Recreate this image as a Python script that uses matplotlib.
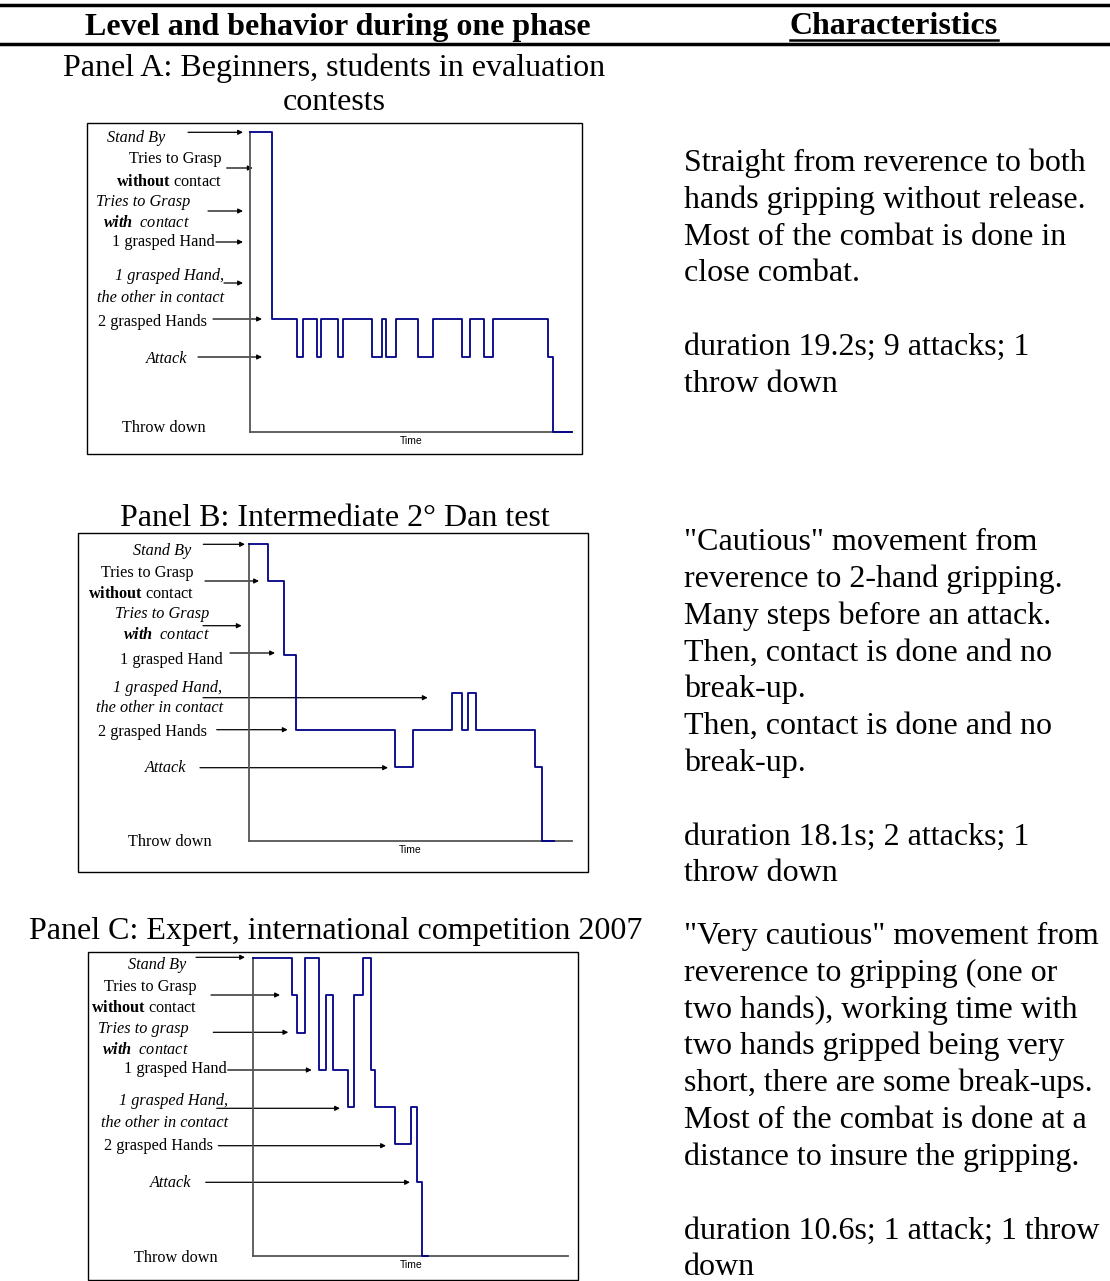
import matplotlib
matplotlib.use("Agg")
import matplotlib.pyplot as plt

plt.rcParams["font.family"] = "Liberation Serif"
plt.rcParams["mathtext.fontset"] = "custom"
plt.rcParams["mathtext.rm"] = "Liberation Serif"
plt.rcParams["mathtext.it"] = "Liberation Serif:italic"
plt.rcParams["mathtext.bf"] = "Liberation Serif:bold"
plt.rcParams["mathtext.bfit"] = "Liberation Serif:italic:bold"

# behaviour levels (y value of each state)
level_names = ["Throw down", "Attack", "2 grasped Hands", "1 grasped Hand, other in contact",
               "1 grasped Hand", "Tries to Grasp with contact",
               "Tries to Grasp without contact", "Stand By"]
level_values = [0, 2, 3, 4, 5, 6, 7, 8]

# Panel A: beginners (time in s, level from that time on)
a_times = [0, 1.42, 3.0, 3.34, 4.23, 4.48, 5.6, 5.92, 7.76, 8.39, 8.62,
           9.26, 10.67, 11.58, 13.42, 13.95, 14.84, 15.39, 18.85, 19.2, 20.4]
a_levels = [8, 3, 2, 3, 2, 3, 2, 3, 2, 3, 2, 3, 2, 3, 2, 3, 2, 3, 2, 0, 0]

# Panel B: intermediate
b_times = [0, 1.19, 2.16, 2.89, 9.03, 10.16, 12.54, 13.15, 13.56, 14.04,
           17.69, 18.1, 18.86]
b_levels = [8, 7, 5, 3, 2, 3, 4, 3, 4, 3, 2, 0, 0]

# Panel C: expert
c_times = [0, 2.42, 2.77, 3.25, 4.15, 4.56, 5.03, 5.98, 6.36, 6.88, 7.41,
           7.66, 8.92, 9.91, 10.32, 10.6, 11.01]
c_levels = [8, 7, 6, 8, 5, 7, 5, 4, 7, 8, 5, 4, 3, 4, 2, 0, 0]

panel_titles = [["Panel A: Beginners, students in evaluation", "contests"],
                ["Panel B: Intermediate 2° Dan test"],
                ["Panel C: Expert, international competition 2007"]]

descriptions = [
    ["Straight from reverence to both",
     "hands gripping without release.",
     "Most of the combat is done in",
     "close combat.",
     "",
     "duration 19.2s; 9 attacks; 1",
     "throw down"],
    ['"Cautious" movement from',
     "reverence to 2-hand gripping.",
     "Many steps before an attack.",
     "Then, contact is done and no",
     "break-up.",
     "Then, contact is done and no",
     "break-up.",
     "",
     "duration 18.1s; 2 attacks; 1",
     "throw down"],
    ['"Very cautious" movement from',
     "reverence to gripping (one or",
     "two hands), working time with",
     "two hands gripped being very",
     "short, there are some break-ups.",
     "Most of the combat is done at a",
     "distance to insure the gripping.",
     "",
     "duration 10.6s; 1 attack; 1 throw",
     "down"],
]

W, H = 1110, 1281
fig = plt.figure(figsize=(W / 100, H / 100), dpi=100)
canvas = fig.add_axes([0, 0, 1, 1])
canvas.set_xlim(0, W)
canvas.set_ylim(H, 0)
canvas.axis("off")


def px_axes(x0, y0, x1, y1):
    return fig.add_axes([x0 / W, 1 - y1 / H, (x1 - x0) / W, (y1 - y0) / H])


# header rules and column titles
canvas.plot([0, W], [4.5, 4.5], color="black", lw=2.5)
canvas.plot([0, W], [43.5, 43.5], color="black", lw=2.5)
canvas.plot([790, 998], [40, 40], color="black", lw=1.8)
canvas.text(338, 27, "Level and behavior during one phase", ha="center",
            va="center", fontsize=23, fontweight="bold")
canvas.text(894, 27, "Characteristics", ha="center", va="center",
            fontsize=23, fontweight="bold")

# layout of each panel: frame box, plot box, x extent, title position, text start
panels = [
    dict(times=a_times, levels=a_levels, frame=(86.7, 123.3, 581.7, 454.3),
         plot=(250, 131.7, 572, 432), xmax=20.4, title_xy=(334, 68),
         desc_y=171),
    dict(times=b_times, levels=b_levels, frame=(78.3, 533.3, 588, 871.7),
         plot=(249, 544, 571.7, 841), xmax=19.96, title_xy=(334.5, 518),
         desc_y=550),
    dict(times=c_times, levels=c_levels, frame=(88.3, 951.7, 578, 1280),
         plot=(253.3, 958, 568.3, 1256), xmax=19.82, title_xy=(336, 931),
         desc_y=944),
]

without = r"$\mathbf{without}\ \mathrm{contact}$"
withc = r"$\mathbfit{with}\ \ \mathit{contact}$"

# (text, x right edge, y, style)
labels = [
    [("Stand By", 165, 137.7, "italic"), ("Tries to Grasp", 221.7, 159, "normal"),
     (without, 221.7, 182, "normal"), ("Tries to Grasp", 190, 202, "italic"),
     (withc, 190, 223, "normal"), ("1 grasped Hand", 215, 242, "normal"),
     ("1 grasped Hand,", 224, 276, "italic"),
     ("the other in contact", 224, 298, "italic"),
     ("2 grasped Hands", 207, 322, "normal"), ("Attack", 187, 359, "italic"),
     ("Throw down", 206, 428, "normal")],
    [("Stand By", 191.7, 551, "italic"), ("Tries to Grasp", 194, 573, "normal"),
     (without, 194, 594, "normal"), ("Tries to Grasp", 209.3, 614, "italic"),
     (withc, 210, 635, "normal"), ("1 grasped Hand", 222.7, 660, "normal"),
     ("1 grasped Hand,", 221.7, 687.7, "italic"),
     ("the other in contact", 222.7, 708, "italic"),
     ("2 grasped Hands", 207, 732, "normal"), ("Attack", 186.7, 768, "italic"),
     ("Throw down", 211.7, 841.7, "normal")],
    [("Stand By", 186.7, 965, "italic"), ("Tries to Grasp", 196.7, 986.7, "normal"),
     (without, 196.7, 1008.3, "normal"), ("Tries to grasp", 189, 1029, "italic"),
     (withc, 189, 1050, "normal"), ("1 grasped Hand", 226.7, 1069, "normal"),
     ("1 grasped Hand,", 227.7, 1100.7, "italic"),
     ("the other in contact", 228.3, 1122.7, "italic"),
     ("2 grasped Hands", 213.3, 1146, "normal"), ("Attack", 191.7, 1183.3, "italic"),
     ("Throw down", 217.7, 1258.3, "normal")],
]

# arrows: (x start, x end, y)
arrows = [
    [(188, 243, 132.3), (226.7, 252.7, 168), (208, 243, 211), (216, 243, 242),
     (224, 243, 283), (213, 262, 319), (198, 262, 357)],
    [(203.3, 245, 544.3), (205, 259, 581), (203, 241.7, 625.7), (230, 275, 653),
     (203, 427.7, 697.7), (216.7, 287.7, 729.7), (200, 388, 767.7)],
    [(196, 245, 957.3), (211, 280, 995), (213.3, 288.3, 1032.3),
     (227.7, 311.7, 1070), (216.7, 340, 1108.3), (218.3, 386, 1145.7),
     (205.7, 410, 1182.3)],
]

for i, p in enumerate(panels):
    fx0, fy0, fx1, fy1 = p["frame"]
    canvas.add_patch(plt.Rectangle((fx0, fy0), fx1 - fx0, fy1 - fy0,
                                   fill=False, ec="black", lw=1.0))

    tx, ty = p["title_xy"]
    for k, line in enumerate(panel_titles[i]):
        canvas.text(tx, ty + 35 * k, line, ha="center", va="center", fontsize=23)

    ax = px_axes(*p["plot"])
    ax.plot(p["times"], p["levels"], drawstyle="steps-post", color="#000088",
            lw=1.3, clip_on=False, zorder=3)
    ax.set_xlim(0, p["xmax"])
    ax.set_ylim(min(level_values), max(level_values))
    ax.patch.set_alpha(0)
    for side in ["top", "right"]:
        ax.spines[side].set_visible(False)
    for side in ["left", "bottom"]:
        ax.spines[side].set_color("#555555")
        ax.spines[side].set_linewidth(1.3)
    ax.set_xticks([])
    ax.set_yticks([])
    ax.set_xlabel("Time", fontfamily="Liberation Sans", fontsize=7.5, labelpad=3)

    for text, x, y, style in labels[i]:
        canvas.text(x, y, text, ha="right", va="center", fontsize=11.7,
                    fontstyle=style)
    for x0, x1, y in arrows[i]:
        canvas.annotate("", xy=(x1, y), xytext=(x0, y),
                        arrowprops=dict(arrowstyle="-|>", lw=0.9, color="black",
                                        mutation_scale=7, shrinkA=0, shrinkB=0))

    for k, line in enumerate(descriptions[i]):
        canvas.text(684, p["desc_y"] + 36.8 * k, line, ha="left",
                    va="baseline", fontsize=23)

fig.savefig("out.png", dpi=100)
